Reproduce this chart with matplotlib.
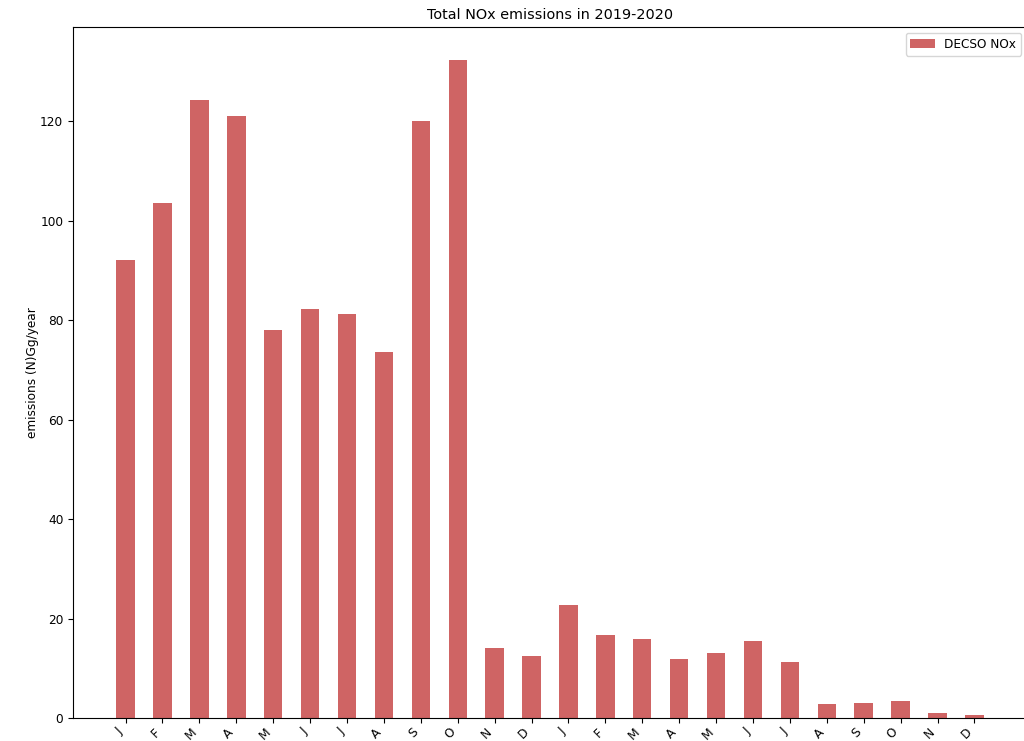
import numpy as np
import matplotlib
matplotlib.use("Agg")
import matplotlib.pyplot as plt

plt.rcParams['font.size'] = 8.7

# monthly DECSO NOx totals, Jan 2019 .. Dec 2020
months = ['J', 'F', 'M', 'A', 'M', 'J', 'J', 'A', 'S', 'O', 'N', 'D'] * 2
nox_2019 = [92.0, 103.6, 124.3, 121.0, 78.1, 82.3, 81.3, 73.6, 120.1, 132.3, 14.1, 12.5]
nox_2020 = [22.7, 16.6, 15.8, 11.9, 13.1, 15.5, 11.3, 2.8, 3.1, 3.5, 1.07, 0.66]
emissions = nox_2019 + nox_2020

fig = plt.figure(figsize=(10.24, 7.41), dpi=100)
ax = fig.add_axes([73/1024, 23/741, 954/1024, 691/741])

x = np.arange(len(emissions))
ax.bar(x, emissions, width=0.5, color='indianred', alpha=0.95, label='DECSO NOx')
ax.set_xticks(x)
ax.set_xticklabels(months, rotation=45, ha='right')
ax.tick_params(axis='x', pad=2)
ax.set_ylabel('emissions (N)Gg/year', labelpad=1)
ax.set_title('Total NOx emissions in 2019-2020', fontsize=10.4)
ax.legend(loc='upper right')

fig.savefig('out.png', dpi=100)
